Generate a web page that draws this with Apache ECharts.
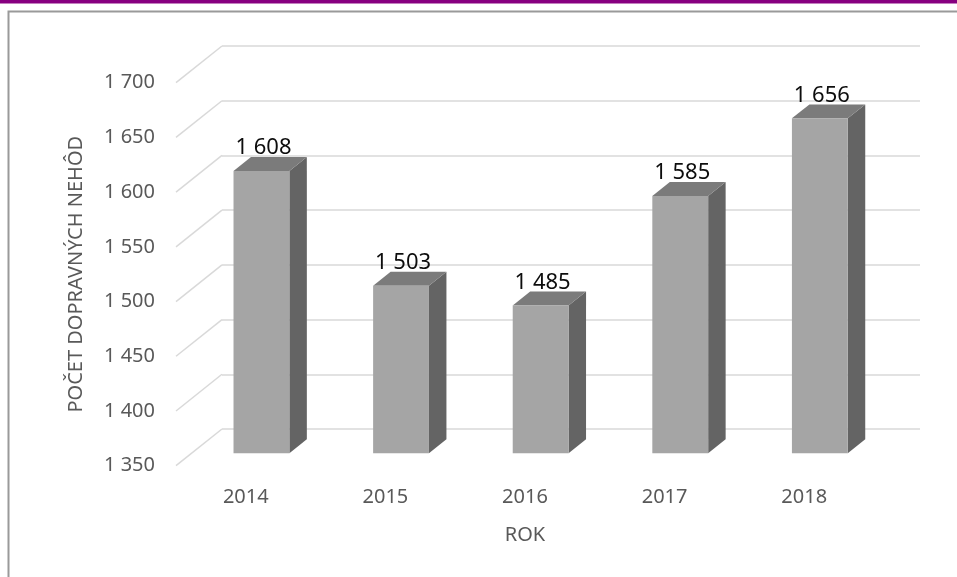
<!DOCTYPE html>
<html>
<head>
<meta charset="utf-8">
<script src="https://cdn.jsdelivr.net/npm/echarts@6/dist/echarts.min.js"></script>
<style>
  html, body { margin: 0; padding: 0; background: #ffffff; }
  #chart { width: 957px; height: 577px; }
</style>
</head>
<body>
<div id="chart"></div>
<script>
// Počet dopravných nehôd podľa roku
const years = ['2014', '2015', '2016', '2017', '2018'];
const accidents = [1608, 1503, 1485, 1585, 1656];
const yTicks = [1350, 1400, 1450, 1500, 1550, 1600, 1650, 1700];

const Y_MIN = 1350, Y_MAX = 1700, Y_STEP = 50;
const FONT = '"Noto Sans", "Open Sans", sans-serif';

// oblique depth vector: back wall -> front edge of the floor
const DX = -46, DY = 36.7;
const FRONT = 0.66;   // depth of a bar's front face
const BACK = 0.28;    // depth of a bar's back face

function fmt(n) {
  const s = String(n);
  return s.length > 3 ? s.slice(0, s.length - 3) + ' ' + s.slice(-3) : s;
}

function renderBar(params, api) {
  const i = api.value(0), v = api.value(1);
  const top = api.coord([i, v]);
  const base = api.coord([i, Y_MIN]);
  const w = api.size([1, 0])[0] * 0.4;
  const cx = top[0];
  const fx = cx + FRONT * DX - w / 2, fy = FRONT * DY;
  const bx = cx + BACK * DX - w / 2, by = BACK * DY;
  const fTop = top[1] + fy, fBase = base[1] + fy;
  const bTop = top[1] + by, bBase = base[1] + by;
  return {
    type: 'group',
    children: [
      { type: 'polygon', shape: { points: [[fx + w, fTop], [bx + w, bTop], [bx + w, bBase], [fx + w, fBase]] },
        style: { fill: '#646464' } },
      { type: 'polygon', shape: { points: [[fx, fTop], [bx, bTop], [bx + w, bTop], [fx + w, fTop]] },
        style: { fill: '#7b7b7b' } },
      { type: 'rect', shape: { x: fx, y: fTop, width: w, height: fBase - fTop },
        style: { fill: '#a5a5a5' } },
      { type: 'text', x: fx + w / 2 + 2, y: bTop + 2,
        style: { text: fmt(v), fill: '#0d0d0d', font: '22px ' + FONT, align: 'center', verticalAlign: 'bottom' } }
    ]
  };
}

function renderSide(params, api) {
  const v = api.value(0);
  const cs = params.coordSys;
  const y = api.coord([0, v])[1];
  return {
    type: 'line',
    shape: { x1: cs.x, y1: y, x2: cs.x + DX, y2: y + DY },
    style: { stroke: '#d9d9d9', lineWidth: 1.5 }
  };
}

const chart = echarts.init(document.getElementById('chart'), null, { renderer: 'canvas' });
chart.setOption({
  backgroundColor: '#ffffff',
  animation: false,
  textStyle: { fontFamily: FONT },
  graphic: [
    { type: 'rect', shape: { x: 0, y: 0, width: 957, height: 3.5 }, style: { fill: '#870080' }, silent: true },
    { type: 'rect', shape: { x: 8.5, y: 11.5, width: 960, height: 580 }, style: { fill: 'none', stroke: '#9a9a9a', lineWidth: 2 }, silent: true }
  ],
  grid: [
    { left: 222, right: 37, top: 46, bottom: 148 },
    { left: 176, right: 83, top: 82.7, bottom: 111.3 }
  ],
  xAxis: [
    { type: 'category', gridIndex: 0, data: years, show: false },
    { type: 'category', gridIndex: 1, data: years,
      axisLine: { show: false }, axisTick: { show: false },
      axisLabel: { color: '#595959', fontSize: 20, fontFamily: FONT, margin: 22 },
      name: 'ROK', nameLocation: 'middle', nameGap: 60,
      nameTextStyle: { color: '#595959', fontSize: 20, fontFamily: FONT } }
  ],
  yAxis: [
    { type: 'value', gridIndex: 0, min: Y_MIN, max: Y_MAX, interval: Y_STEP,
      axisLine: { show: false }, axisTick: { show: false }, axisLabel: { show: false },
      splitLine: { lineStyle: { color: '#d9d9d9', width: 1.5 } } },
    { type: 'value', gridIndex: 1, min: Y_MIN, max: Y_MAX, interval: Y_STEP,
      axisLine: { show: false }, axisTick: { show: false }, splitLine: { show: false },
      axisLabel: { color: '#595959', fontSize: 20, fontFamily: FONT, margin: 21, formatter: fmt },
      name: 'POČET DOPRAVNÝCH NEHÔD', nameLocation: 'middle', nameGap: 90, nameRotate: 90,
      nameTextStyle: { color: '#595959', fontSize: 20, fontFamily: FONT } }
  ],
  series: [
    { type: 'custom', xAxisIndex: 0, yAxisIndex: 0, renderItem: renderSide,
      data: yTicks.map(v => [v]), encode: { y: 0 }, silent: true, z: 1 },
    { type: 'custom', xAxisIndex: 0, yAxisIndex: 0, renderItem: renderBar,
      data: accidents.map((v, i) => [i, v]), encode: { x: 0, y: 1 }, silent: true, z: 2 }
  ]
});
</script>
</body>
</html>
